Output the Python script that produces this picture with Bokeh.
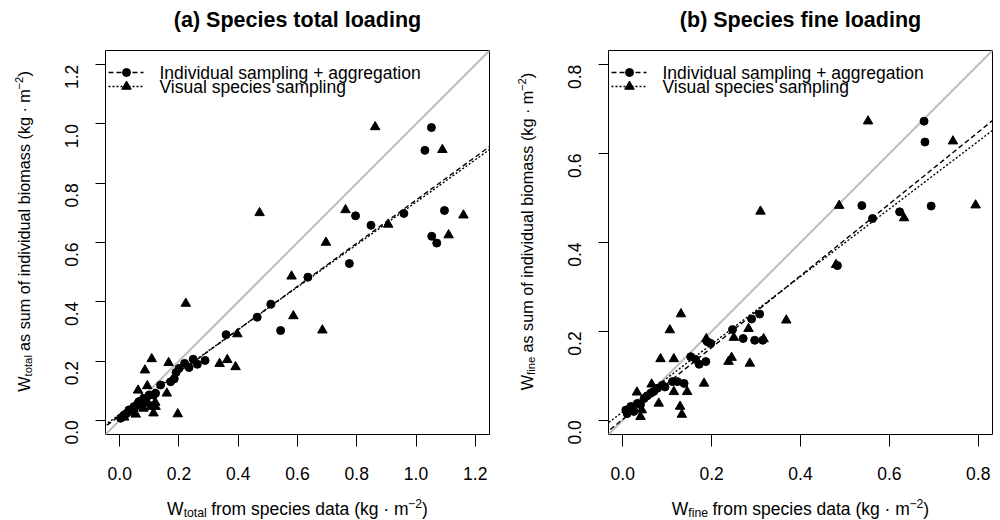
import math
from bokeh.plotting import figure
from bokeh.models import Slope, Label, FixedTicker, PrintfTickFormatter, Range1d
from bokeh.layouts import row, column
from bokeh.embed import file_html
from bokeh.resources import INLINE

# ---------------- data ----------------
# Panel (a): species total loading
a_ind_x = [1.052, 1.030, 0.796, 0.848, 0.959, 1.096, 1.053, 1.070, 0.775, 0.635,
           0.543, 0.510, 0.464, 0.359, 0.288, 0.262, 0.248, 0.234, 0.219, 0.200,
           0.190, 0.184, 0.172, 0.138, 0.121, 0.114, 0.099, 0.082, 0.065, 0.048,
           0.031, 0.015, 0.003, 0.040, 0.022, 0.058, 0.090, 0.072, 0.010]
a_ind_y = [0.988, 0.911, 0.690, 0.658, 0.698, 0.708, 0.621, 0.598, 0.529, 0.483,
           0.303, 0.392, 0.348, 0.289, 0.202, 0.189, 0.206, 0.178, 0.192, 0.175,
           0.161, 0.140, 0.130, 0.119, 0.091, 0.085, 0.085, 0.068, 0.063, 0.046,
           0.035, 0.018, 0.007, 0.030, 0.022, 0.050, 0.075, 0.060, 0.012]
a_vis_x = [0.862, 1.089, 0.762, 0.906, 1.160, 1.110, 0.696, 0.580, 0.586, 0.684,
           0.472, 0.223, 0.397, 0.363, 0.337, 0.391, 0.108, 0.085, 0.165, 0.159,
           0.196, 0.093, 0.062, 0.121, 0.114, 0.054, 0.076, 0.093, 0.105, 0.054,
           0.030, 0.045, 0.120, 0.080, 0.015]
a_vis_y = [0.990, 0.913, 0.710, 0.661, 0.692, 0.625, 0.600, 0.486, 0.352, 0.304,
           0.700, 0.394, 0.291, 0.204, 0.191, 0.180, 0.207, 0.169, 0.194, 0.091,
           0.021, 0.116, 0.101, 0.046, 0.024, 0.020, 0.074, 0.057, 0.046, 0.052,
           0.030, 0.040, 0.060, 0.040, 0.010]
a_ind_fit = (0.015, 0.728)   # (intercept, slope)
a_vis_fit = (0.020, 0.716)

# Panel (b): species fine loading
b_ind_x = [0.678, 0.680, 0.538, 0.694, 0.562, 0.623, 0.483, 0.308, 0.290, 0.247,
           0.271, 0.297, 0.315, 0.198, 0.190, 0.153, 0.164, 0.172, 0.187, 0.138,
           0.112, 0.123, 0.089, 0.078, 0.063, 0.048, 0.033, 0.018, 0.007, 0.010,
           0.025, 0.055, 0.070, 0.095, 0.040]
b_ind_y = [0.673, 0.626, 0.483, 0.482, 0.454, 0.469, 0.348, 0.239, 0.228, 0.204,
           0.184, 0.180, 0.180, 0.173, 0.177, 0.143, 0.137, 0.126, 0.132, 0.083,
           0.087, 0.087, 0.079, 0.072, 0.061, 0.049, 0.038, 0.031, 0.023, 0.015,
           0.020, 0.055, 0.065, 0.075, 0.035]
b_vis_x = [0.552, 0.743, 0.487, 0.794, 0.633, 0.480, 0.368, 0.310, 0.131, 0.106,
           0.283, 0.250, 0.317, 0.188, 0.245, 0.238, 0.286, 0.183, 0.085, 0.115,
           0.065, 0.032, 0.115, 0.145, 0.081, 0.129, 0.133, 0.043, 0.021, 0.040]
b_vis_y = [0.673, 0.628, 0.483, 0.484, 0.455, 0.350, 0.225, 0.470, 0.239, 0.203,
           0.206, 0.186, 0.183, 0.183, 0.141, 0.132, 0.128, 0.083, 0.138, 0.138,
           0.081, 0.063, 0.064, 0.064, 0.038, 0.031, 0.013, 0.023, 0.027, 0.008]
b_ind_fit = (0.002, 0.808)
b_vis_fit = (0.019, 0.761)

a_ticks = [0.0, 0.2, 0.4, 0.6, 0.8, 1.0, 1.2]
b_ticks = [0.0, 0.2, 0.4, 0.6, 0.8]
titles = ["(a) Species total loading", "(b) Species fine loading"]
subs = ["total", "fine"]
legend_labels = ["Individual sampling + aggregation", "Visual species sampling"]

# ---------------- styling / layout helpers ----------------
FONT = "Liberation Sans"
FRAME = 384
TITLE_H = 50          # canvas rows 0..50
PLOT_BOTTOM = 52      # tick marks + tick labels below the frame
XLAB_H = 520 - TITLE_H - FRAME - PLOT_BOTTOM
YLAB_W = 50
BASE_FIX = 5.0 / 17.5  # observed baseline drop of Label text, per px of font size
CW = {' ': 278, '(': 333, ')': 333, 'W': 944, 'f': 278, 'r': 333, 'o': 556, 'm': 833,
      's': 500, 'p': 556, 'e': 556, 'c': 500, 'i': 222, 'd': 556, 'a': 556, 't': 278,
      'k': 500, 'g': 556, '\u00b7': 278, '\u2212': 584, '2': 556, 'l': 222, 'n': 556,
      'b': 556, 'u': 556, 'v': 500}


def tw(s, size):
    return sum(CW.get(c, 556) for c in s) / 1000.0 * size


def text_fig(w, h):
    f = figure(width=w, height=h, frame_width=w, frame_height=h, title=None,
               x_range=Range1d(0, w), y_range=Range1d(0, h),
               min_border=0, x_axis_type=None, y_axis_type=None,
               output_backend="svg", toolbar_location=None)
    f.outline_line_color = None
    f.grid.visible = False
    f.background_fill_color = "white"
    f.border_fill_color = "white"
    return f


def add_text(f, h, px, py, text, size, bold=False, align="left", angle=0.0):
    """px, py: canvas pixel position (from top-left) of the text's baseline anchor."""
    fix = BASE_FIX * size
    if angle:
        px -= fix
    else:
        py -= fix
    lab = Label(x=px, y=h - py, text=text, angle=angle, text_font=FONT,
                text_font_size=f"{size:.2f}px", text_color="black",
                text_font_style="bold" if bold else "normal",
                text_align=align, text_baseline="alphabetic")
    f.add_layout(lab)


def put_rich(f, h, parts, size, start, base, vertical):
    cur = start
    for txt, sc, sh in parts:
        fs = size * sc
        stripped = txt.lstrip(" ")
        lead = tw(txt[:len(txt) - len(stripped)], fs)
        cur = cur - lead if vertical else cur + lead
        w = tw(stripped, fs)
        if vertical:
            add_text(f, h, base + sh * size / 17.5, cur - w / 2, stripped, fs,
                     align="center", angle=math.pi / 2)
        else:
            add_text(f, h, cur + w / 2, base + sh, stripped, fs, align="center")
        cur = cur - w if vertical else cur + w


def make_panel(lim, ticks, ind_x, ind_y, vis_x, vis_y, ind_fit, vis_fit,
               title, sub, left, right):
    pad = 0.04 * lim
    r0, r1 = -pad, lim + pad
    W = left + FRAME + right
    p = figure(width=W - YLAB_W, height=FRAME + PLOT_BOTTOM, title=None,
               frame_width=FRAME, frame_height=FRAME,
               x_range=(r0, r1), y_range=(r0, r1),
               min_border_left=left - YLAB_W, min_border_right=right,
               min_border_top=0, min_border_bottom=PLOT_BOTTOM,
               output_backend="svg", toolbar_location=None)
    p.grid.visible = False
    p.outline_line_color = "black"
    p.outline_line_alpha = 1.0
    p.outline_line_width = 1
    p.background_fill_color = "white"
    p.border_fill_color = "white"

    for ax, tick_len, standoff in ((p.xaxis[0], 12, 20), (p.yaxis[0], 10, 24)):
        ax.ticker = FixedTicker(ticks=ticks)
        ax.formatter = PrintfTickFormatter(format="%.1f")
        ax.axis_line_color = None
        ax.major_tick_in = 0
        ax.major_tick_out = tick_len
        ax.major_tick_line_color = "black"
        ax.minor_tick_line_color = None
        ax.major_label_text_font = FONT
        ax.major_label_text_font_size = "17.5px"
        ax.major_label_text_color = "black"
        ax.major_label_standoff = standoff
    p.yaxis[0].major_label_orientation = math.pi / 2

    # canvas pixel -> data (inside the frame only; used for the legend)
    def X(px):
        return r0 + (px - left) / FRAME * (r1 - r0)

    def Y(py):
        return r0 + (TITLE_H + FRAME - py) / FRAME * (r1 - r0)

    # 1:1 line
    p.add_layout(Slope(gradient=1, y_intercept=0, line_color="#BEBEBE",
                       line_width=2, level="underlay"))
    # points
    p.scatter(ind_x, ind_y, marker="circle", size=8, color="black")
    p.scatter(vis_x, vis_y, marker="triangle", size=9.5, color="black")
    # fitted lines
    dash_a, dash_b = "5 3", "2 2"
    p.add_layout(Slope(gradient=ind_fit[1], y_intercept=ind_fit[0], line_color="black",
                       line_width=1.4, line_dash=dash_a))
    p.add_layout(Slope(gradient=vis_fit[1], y_intercept=vis_fit[0], line_color="black",
                       line_width=1.4, line_dash=dash_b))

    # legend (drawn by hand to match the tight row spacing)
    rows = [(72.0, 77.5, "circle", 8, dash_a), (86.0, 91.5, "triangle", 9.5, dash_b)]
    for (cy, base, mk, ms, dash), lab in zip(rows, legend_labels):
        p.segment(x0=[X(left + 3)], y0=[Y(cy)], x1=[X(left + 38)], y1=[Y(cy)],
                  line_color="black", line_width=1.4, line_dash=dash)
        p.scatter([X(left + 21)], [Y(cy)], marker=mk, size=ms, color="black")
        p.add_layout(Label(x=X(left + 54), y=Y(base - BASE_FIX * 17.5), text=lab,
                           text_font=FONT, text_font_size="17.5px", text_color="black",
                           text_align="left", text_baseline="alphabetic"))

    # title strip
    tf = text_fig(W, TITLE_H)
    add_text(tf, TITLE_H, left + FRAME / 2, 26, title, 21.5, bold=True, align="center")

    def segs(main):
        return [("W", 1.0, 0), (sub, 0.7, 3.0), (" " + main + " (kg \u00b7 m", 1.0, 0),
                ("\u22122", 0.7, -6.5), (")", 1.0, 0)]

    # x-axis label strip (canvas rows TITLE_H+FRAME+PLOT_BOTTOM .. 520)
    xf = text_fig(W, XLAB_H)
    xs = 17.5
    xparts = segs("from species data")
    total = sum(tw(t, xs * s) for t, s, _ in xparts)
    put_rich(xf, XLAB_H, xparts, xs, left + FRAME / 2 - total / 2,
             513 - (TITLE_H + FRAME + PLOT_BOTTOM), False)

    # y-axis label strip (canvas rows TITLE_H .. TITLE_H+FRAME+PLOT_BOTTOM)
    yh = FRAME + PLOT_BOTTOM
    yf = text_fig(YLAB_W, yh)
    ys = 16.2
    yparts = segs("as sum of individual biomass")
    total = sum(tw(t, ys * s) for t, s, _ in yparts)
    put_rich(yf, yh, yparts, ys, 231 + total / 2 - TITLE_H, left - 77, True)

    return column(tf, row(yf, p, spacing=0), xf, spacing=0)


pa = make_panel(1.2, a_ticks, a_ind_x, a_ind_y, a_vis_x, a_vis_y, a_ind_fit, a_vis_fit,
                titles[0], subs[0], 105, 11)
pb = make_panel(0.8, b_ticks, b_ind_x, b_ind_y, b_vis_x, b_vis_y, b_ind_fit, b_vis_fit,
                titles[1], subs[1], 108, 8)

layout = row(pa, pb, spacing=0)
open("out.html", "w").write(file_html(layout, INLINE))
